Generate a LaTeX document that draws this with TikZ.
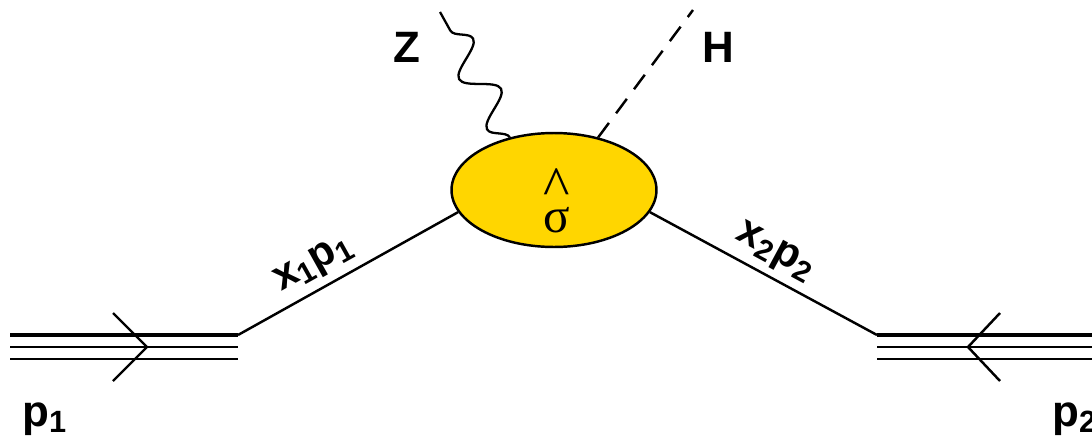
\documentclass[tikz,border=0pt]{standalone}
\usepackage{fontspec}
\setmainfont{Liberation Sans}
\newfontfamily\sigfont{Liberation Serif}
\usetikzlibrary{shapes.geometric,decorations.pathmorphing}

\definecolor{blobgold}{RGB}{255,214,0}

\tikzset{
  lbl/.style={font=\fontsize{25}{30}\selectfont\bfseries, inner sep=0pt},
  slbl/.style={font=\fontsize{24}{28}\selectfont\bfseries, inner sep=4pt, sloped, anchor=south},
  beam/.style={line width=1.4pt},
  parton/.style={line width=1.4pt},
  boson/.style={line width=1.3pt, decorate,
    decoration={snake, segment length=1.15cm, amplitude=0.32cm}},
  higgs/.style={line width=1.4pt, dash pattern=on 0.36cm off 0.24cm},
}

\begin{document}
\begin{tikzpicture}[x=0.02cm, y=-0.02cm]
    \useasboundingbox (0,0) rectangle (1092,443);

    % harter Prozess
    \node[ellipse, draw, line width=1.4pt, fill=blobgold,
          minimum width=4.1cm, minimum height=2.28cm, inner sep=0pt] (blob) at (554,190) {};
    \node[inner sep=0pt, font=\sigfont\fontsize{28}{30}\selectfont, align=center] (sig) at (557,201)
        {{\fontsize{32}{10}\selectfont\^{}}\\[-15pt]σ};

    % einlaufende Protonen (drei Linien)
    \foreach \i/\y/\w in {1/335/1.9pt,2/347/1.4pt,3/359/1.4pt} {
        \coordinate (lb\i) at (10,\y);
        \coordinate (le\i) at (238,\y);
        \coordinate (rb\i) at (877,\y);
        \coordinate (re\i) at (1092,\y);
        \draw[beam, line width=\w] (lb\i) -- (le\i);
        \draw[beam, line width=\w] (rb\i) -- (re\i);
    }
    % Pfeile auf den Protonen
    \coordinate (la1) at (113,313);
    \coordinate (lt) at (147,347);
    \coordinate (la2) at (113,381);
    \coordinate (ra1) at (1000,313);
    \coordinate (rt) at (968,347);
    \coordinate (ra2) at (1000,381);
    \draw[beam] (la1) -- (lt) -- (la2);
    \draw[beam] (ra1) -- (rt) -- (ra2);

    % Partonen
    \draw[parton] (le1) -- node[slbl, pos=0.4] {x\textsubscript{1}p\textsubscript{1}} (blob.193.7);
    \draw[parton] (blob.347.7) -- node[slbl, pos=0.5] {x\textsubscript{2}p\textsubscript{2}} (rb1);

    % auslaufende Teilchen
    \coordinate (zt) at (440,12);
    \coordinate (ht) at (693,10);
    \draw[boson] (blob.130) -- (zt);
    \draw[higgs] (blob.50) -- (ht);

    % Beschriftungen
    \node[lbl, anchor=base] (zlab) at (407,62) {Z};
    \node[lbl, anchor=base] (hlab) at (718,62) {H};
    \node[lbl, anchor=base west] (p1lab) at (22,426) {p\textsubscript{1}};
    \node[lbl, anchor=base west] (p2lab) at (1052,426) {p\textsubscript{2}};
\end{tikzpicture}
\end{document}
